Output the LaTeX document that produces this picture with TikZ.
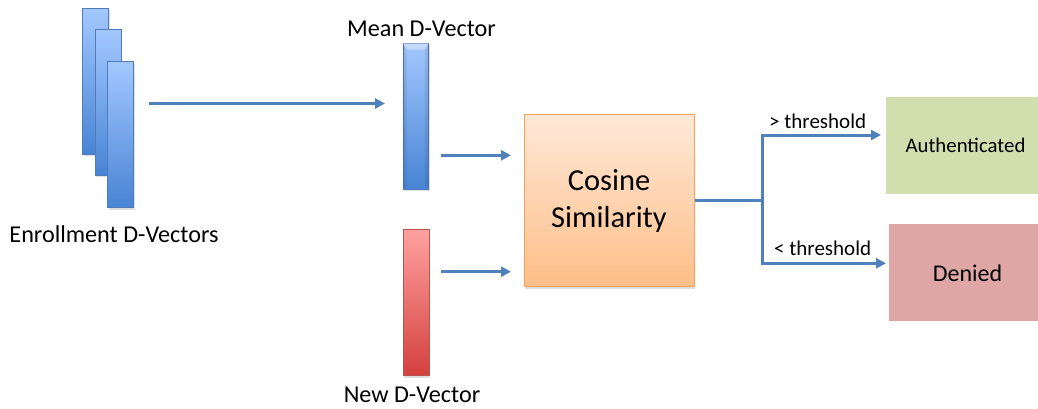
\documentclass[tikz,border=0pt]{standalone}
\usepackage{fontspec}
\setmainfont{Carlito}
\usetikzlibrary{arrows.meta,shadows}

\definecolor{bluetop}{RGB}{163,200,255}
\definecolor{bluebot}{RGB}{72,132,212}
\definecolor{blueedge}{RGB}{79,124,188}
\definecolor{redtop}{RGB}{255,162,160}
\definecolor{redbot}{RGB}{212,64,62}
\definecolor{rededge}{RGB}{192,80,77}
\definecolor{orangetop}{RGB}{255,233,216}
\definecolor{orangebot}{RGB}{255,190,136}
\definecolor{orangeedge}{RGB}{247,160,92}
\definecolor{okgreen}{RGB}{209,223,174}
\definecolor{denyred}{RGB}{223,166,166}
\definecolor{arrowblue}{RGB}{79,129,189}

\begin{document}
\begin{tikzpicture}[x=1pt,y=-1pt,
  softshadow/.style={drop shadow={shadow xshift=1pt,shadow yshift=-2pt,opacity=0.25}},
  vecbar/.style={inner sep=0pt,minimum width=26pt,minimum height=146pt,line width=0.8pt,softshadow},
  bluebar/.style={vecbar,draw=blueedge,top color=bluetop,bottom color=bluebot},
  redbar/.style={vecbar,draw=rededge,top color=redtop,bottom color=redbot},
  cosbox/.style={draw=orangeedge,line width=1pt,top color=orangetop,bottom color=orangebot,
    minimum width=170pt,minimum height=172pt,inner sep=0pt,align=center,softshadow,
    font=\fontsize{30.5}{36.6}\selectfont},
  result/.style={inner sep=0pt,minimum height=97pt},
  lbl/.style={inner sep=0pt,anchor=base,font=\fontsize{24.2}{29}\selectfont},
  thr/.style={inner sep=0pt,anchor=base west,font=\fontsize{21}{25}\selectfont},
  conn/.style={draw=arrowblue,line width=3pt},
  arr/.style={conn,-{Triangle[length=10pt,width=10pt]}},
]
\useasboundingbox (0,0) rectangle (1038,408);

% enrollment d-vectors, stacked
\node[bluebar] (e1) at (95.5,81) {};
\node[bluebar] (e2) at (108,102) {};
\node[bluebar] (e3) at (120.5,134.5) {};
\node[lbl] (enrl) at (114,242.7) {Enrollment D-Vectors};

% mean d-vector with a bevelled top
\node[bluebar,minimum width=25.5pt] (mean) at (415.8,116) {};
\fill[white,opacity=0.35] (mean.north west) -- (mean.north east)
  -- ([xshift=-4pt,yshift=-7pt]mean.north east) -- ([xshift=4pt,yshift=-7pt]mean.north west) -- cycle;
\fill[black,opacity=0.08] (mean.north west) -- ([xshift=4pt,yshift=-7pt]mean.north west)
  -- ([xshift=4pt,yshift=4pt]mean.south west) -- (mean.south west) -- cycle;
\fill[black,opacity=0.08] (mean.north east) -- ([xshift=-4pt,yshift=-7pt]mean.north east)
  -- ([xshift=-4pt,yshift=4pt]mean.south east) -- (mean.south east) -- cycle;
\node[lbl] (meanl) at (421.5,36.7) {Mean D-Vector};

% new d-vector
\node[redbar] (new) at (416,302.5) {};
\node[lbl] (newl) at (412,402.7) {New D-Vector};

% similarity block and outcomes
\node[cosbox] (cos) at (609,200.7) {Cosine\\Similarity};
\node[result,fill=okgreen,minimum width=159pt,font=\fontsize{20.8}{25}\selectfont] (auth) at (965.5,145.8) {Authenticated};
\node[result,fill=denyred,minimum width=157pt,font=\fontsize{24}{29}\selectfont] (deny) at (967.5,272.8) {Denied};

% connector end points
\coordinate (enrl-out) at (149,103.5);
\coordinate (mean-in) at (385,103.5);
\coordinate (mean-out) at (441,155.3);
\coordinate (cos-in1) at (511,155.3);
\coordinate (new-out) at (441,271.7);
\coordinate (cos-in2) at (511,271.7);
\coordinate (split) at (762,200.7);
\coordinate (auth-in) at (881,135);
\coordinate (deny-in) at (886,263.3);

\draw[arr] (enrl-out) -- (mean-in);
\draw[arr] (mean-out) -- (cos-in1);
\draw[arr] (new-out) -- (cos-in2);
\draw[conn] (cos.east) -- (split);
\draw[arr] (split) |- (auth-in);
\draw[arr] (split) |- (deny-in);

\node[thr] (gt) at (769,128.3) {> threshold};
\node[thr] (lt) at (774,255.7) {< threshold};
\end{tikzpicture}
\end{document}
